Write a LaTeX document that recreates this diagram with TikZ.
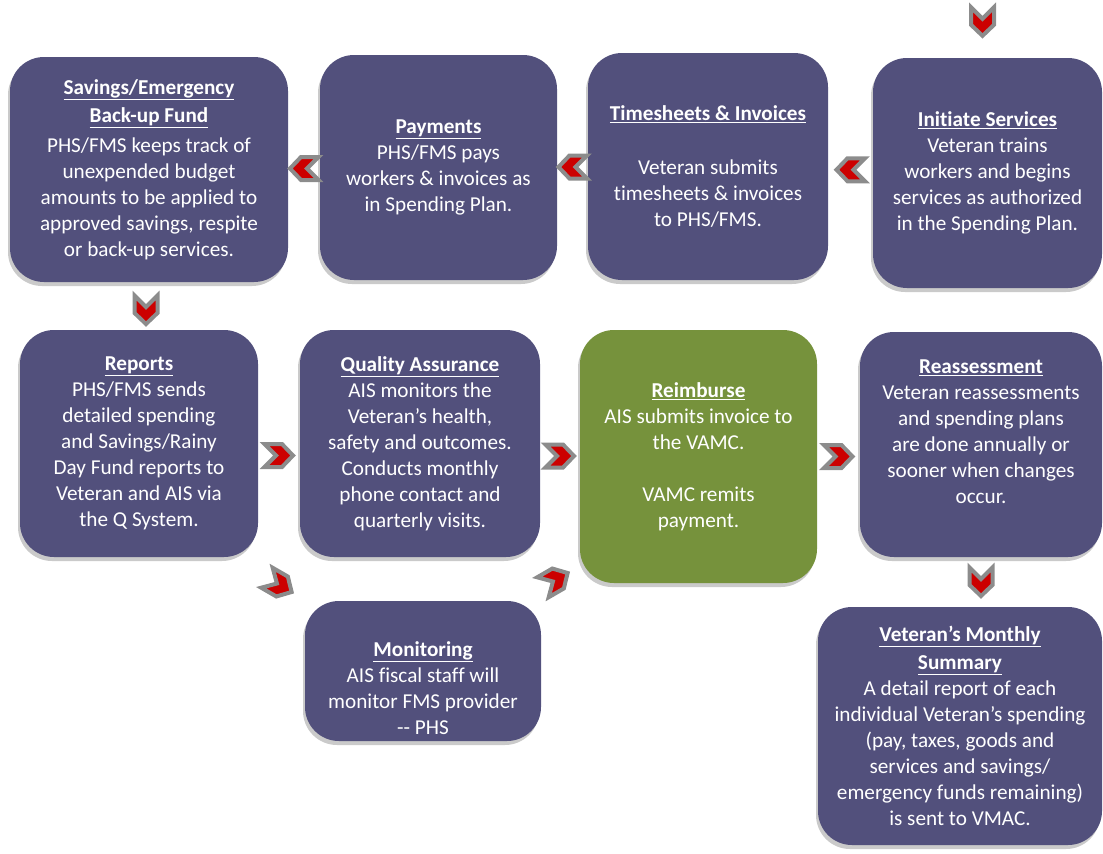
\documentclass[tikz,border=0pt]{standalone}
\usepackage{fontspec}
\setmainfont{Carlito}[Ligatures={TeX,NoCommon}]
\usepackage{tikz}
\usetikzlibrary{positioning, calc, shadows}

\definecolor{boxblue}{RGB}{82,80,124}
\definecolor{boxgreen}{RGB}{118,146,60}
\definecolor{chevred}{RGB}{204,0,0}
\definecolor{chevgray}{RGB}{140,140,140}

\newcommand{\ttl}[1]{\textbf{\underline{#1}}}

\begin{document}
\begin{tikzpicture}[
    x=1pt, y=-1pt,
    box/.style={rectangle, rounded corners=34pt, fill=boxblue, text=white, align=center,
        font=\fontsize{21.2}{26}\selectfont, inner sep=0pt,
        drop shadow={shadow xshift=-2pt, shadow yshift=-4pt, fill=black!35, opacity=0.6}},
    greenbox/.style={box, fill=boxgreen},
    txt/.style={text=white, align=center, font=\fontsize{21.2}{26}\selectfont, inner sep=0pt},
    chevron/.pic={
        \draw[fill=chevred, draw=chevgray, line width=4pt, line join=miter]
            (-14.5,-11.5) -- (3,-11.5) -- (14,0) -- (3,11.5) -- (-14.5,11.5) -- (-3,0) -- cycle;
    }
]
\useasboundingbox (0,0) rectangle (1103,854);

% Top row
\node[box, minimum width=278pt, minimum height=225pt] (sav) at (149,169.5)
    {\ttl{Savings/Emergency}\\[2pt]\ttl{Back-up Fund}\\[4pt]PHS/FMS keeps track of\\unexpended budget\\amounts to be applied to\\approved savings, respite\\or back-up services.};
\node[box, minimum width=237pt, minimum height=225pt] (pay) at (438.5,167.5)
    {\ttl{Payments}\\PHS/FMS pays\\workers \& invoices as\\in Spending Plan.};
\node[box, minimum width=240pt, minimum height=227pt] (time) at (708,166.5)
    {\ttl{Timesheets \& Invoices}\\[28pt]Veteran submits\\timesheets \& invoices\\to PHS/FMS.};
\node[box, minimum width=229pt, minimum height=230pt] (init) at (987.5,173)
    {\ttl{Initiate Services}\\Veteran trains\\workers and begins\\services as authorized\\in the Spending Plan.};

% Middle row
\node[box, minimum width=238pt, minimum height=227pt] (rep) at (139,443.5)
    {\ttl{Reports}\\PHS/FMS sends\\detailed spending\\and Savings/Rainy\\Day Fund reports to\\Veteran and AIS via\\the Q System.};
\node[box, minimum width=240pt, minimum height=227pt] (qa) at (420,443.5)
    {\ttl{Quality Assurance}\\AIS monitors the\\Veteran’s health,\\safety and outcomes.\\Conducts monthly\\phone contact and\\quarterly visits.};
\node[greenbox, minimum width=237pt, minimum height=253pt] (reim) at (698.5,456.5)
    {\ttl{Reimburse}\\AIS submits invoice to\\the VAMC.\\[26pt]VAMC remits\\payment.};
\node[box, minimum width=242pt, minimum height=225pt] (reas) at (981,444.5) {};
\node[txt] (reastxt) at (981,432)
    {\ttl{Reassessment}\\Veteran reassessments\\and spending plans\\are done annually or\\sooner when changes\\occur.};

% Bottom row
\node[box, minimum width=236pt, minimum height=140pt] (mon) at (423,671) {};
\node[txt] (montxt) at (423,688)
    {\ttl{Monitoring}\\AIS fiscal staff will\\monitor FMS provider\\-{}- PHS};
\node[box, minimum width=284pt, minimum height=238pt] (sum) at (960,726)
    {\ttl{Veteran’s Monthly}\\[2pt]\ttl{Summary}\\A detail report of each\\individual Veteran’s spending\\(pay, taxes, goods and\\services and savings/\\emergency funds remaining)\\is sent to VMAC.};

% Chevrons
\pic[rotate=-90] at ($(init.north)+(-5,-36)$) {chevron};
\pic[rotate=180] at ($(pay.west)!0.5!(sav.east)$) {chevron};
\pic[rotate=180] at ($(time.west)!0.5!(pay.east)$) {chevron};
\pic[rotate=180] at ($(init.west)!0.5!(time.east)$) {chevron};
\pic[rotate=-90] at ($(sav.south)!0.5!(sav.south|-rep.north)+(-3,4)$) {chevron};
\pic at ($(rep.east)!0.5!(qa.west)+(0,12)$) {chevron};
\pic at ($(qa.east)!0.5!(reim.west)+(0,6)$) {chevron};
\pic at ($(reim.east)!0.5!(reas.west)+(0,6)$) {chevron};
\pic[rotate=-90] at ($(reas.south)!0.5!(reas.south|-sum.north)$) {chevron};
\pic[rotate=-30] at ($(rep.south east)!0.5!(mon.north west)+(-2,6)$) {chevron};
\pic[rotate=30] at ($(mon.north east)!0.5!(reim.south west)+(-5,-12)$) {chevron};

\end{tikzpicture}
\end{document}
